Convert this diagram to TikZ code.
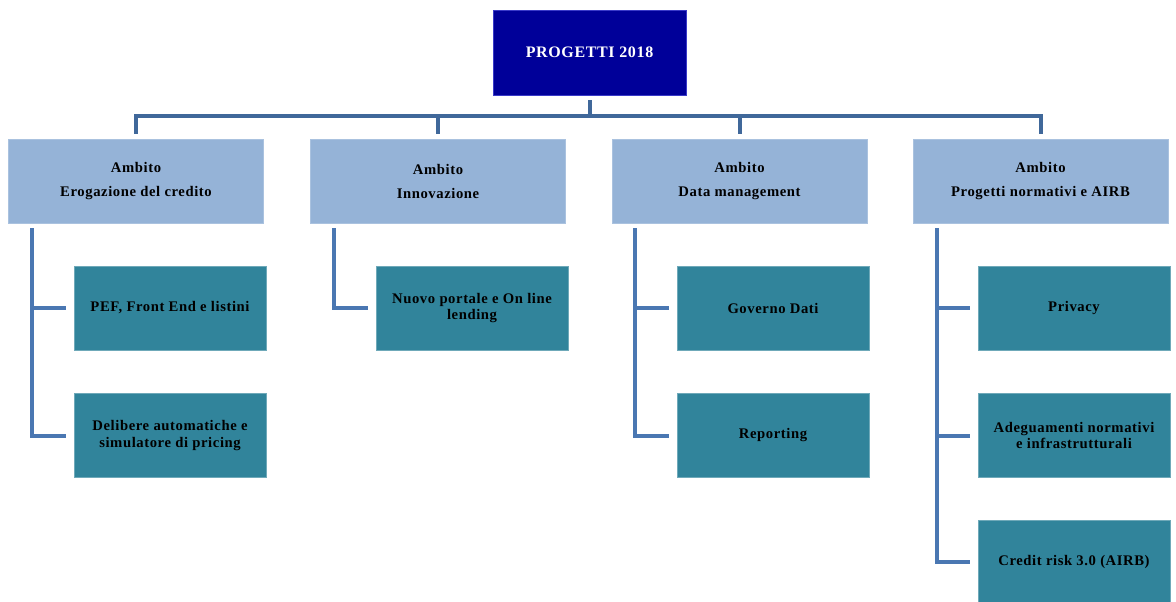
\documentclass[tikz,border=0pt]{standalone}
\usepackage{fontspec}
\setmainfont{Liberation Serif}[LetterSpace=4]
\usetikzlibrary{calc}
\definecolor{topblue}{HTML}{000099}
\definecolor{topborder}{HTML}{3A3AC8}
\definecolor{ambfill}{HTML}{95B3D7}
\definecolor{tealfill}{HTML}{31849B}
\definecolor{busline}{HTML}{40689A}
\definecolor{subline}{HTML}{4A77B2}
\begin{document}
\begin{tikzpicture}[x=0.75pt,y=-0.75pt,
  every node/.style={align=center, inner sep=0pt},
  topbox/.style={font=\bfseries\fontsize{12}{14}\selectfont, fill=topblue, draw=topborder, line width=0.5pt, text=white, minimum width=144.75pt, minimum height=63.75pt},
  ambbox/.style={font=\bfseries\fontsize{11}{18}\selectfont, fill=ambfill, draw=ambfill!80!white, line width=0.5pt, text=black, minimum width=191.25pt, minimum height=63pt},
  itembox/.style={font=\bfseries\fontsize{11}{12.5}\selectfont, fill=tealfill, draw=tealfill!70!white, line width=0.5pt, text=black, minimum width=144pt, minimum height=63pt},
  bus/.style={draw=busline, line width=3pt},
  sub/.style={draw=subline, line width=3pt}]
\useasboundingbox (0,0) rectangle (1176,601);

\node[topbox] (top) at (589.5,52.5) {PROGETTI 2018};

\node[ambbox] (a1) at (136,181) {Ambito\\Erogazione del credito};
\node[ambbox] (a2) at (438,181) {Ambito\\Innovazione};
\node[ambbox] (a3) at (739.5,181) {Ambito\\Data management};
\node[ambbox] (a4) at (1040.5,181) {Ambito\\Progetti normativi e AIRB};

\node[itembox] (c11) at (170,308) {PEF, Front End e listini};
\node[itembox] (c12) at (170,435.5) {Delibere automatiche e\\simulatore di pricing};
\node[itembox] (c21) at (472,308) {Nuovo portale e On line\\lending};
\node[itembox] (c31) at (773,308) {Governo Dati};
\node[itembox] (c32) at (773,435.5) {Reporting};
\node[itembox] (c41) at (1074,308) {Privacy};
\node[itembox] (c42) at (1074,435.5) {Adeguamenti normativi\\e infrastrutturali};
\node[itembox] (c43) at (1074,562) {Credit risk 3.0 (AIRB)};

% bus from top box to the four areas
\coordinate (busy) at ($(top.south)+(0,21)$);
\foreach \a in {a1,a2,a3,a4}{
  \draw[bus, shorten <=3.75pt, shorten >=3.75pt] (top.south) -- (busy) -| (\a.north);
}

% sub connectors
\coordinate (s1) at ($(a1.south west)+(24,5)$);
\coordinate (s2) at ($(a2.south west)+(24,5)$);
\coordinate (s3) at ($(a3.south west)+(23,5)$);
\coordinate (s4) at ($(a4.south west)+(24,5)$);
\draw[sub, shorten >=6pt] (s1) |- (c11.west);
\draw[sub, shorten >=6pt] (s1) |- (c12.west);
\draw[sub, shorten >=6pt] (s2) |- (c21.west);
\draw[sub, shorten >=6pt] (s3) |- (c31.west);
\draw[sub, shorten >=6pt] (s3) |- (c32.west);
\draw[sub, shorten >=6pt] (s4) |- (c41.west);
\draw[sub, shorten >=6pt] (s4) |- (c42.west);
\draw[sub, shorten >=6pt] (s4) |- (c43.west);
\end{tikzpicture}
\end{document}
